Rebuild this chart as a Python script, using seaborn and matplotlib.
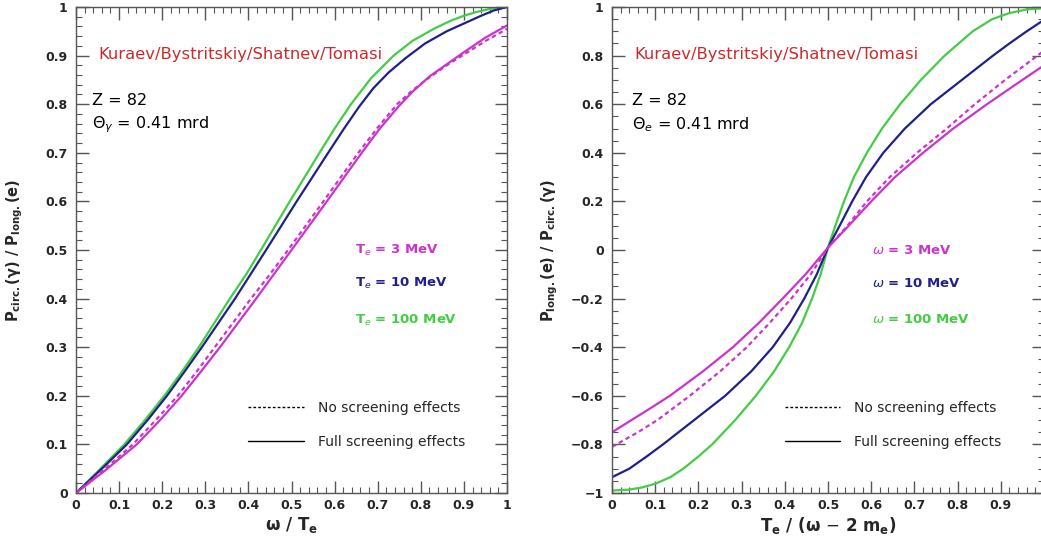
import matplotlib
matplotlib.use("Agg")
import matplotlib.pyplot as plt
from matplotlib.lines import Line2D
from matplotlib.ticker import MultipleLocator, FuncFormatter
import pandas as pd
import seaborn as sns

# left panel: P_circ(gamma) / P_long(e) versus omega / T_e
LEFT_GREEN_X = [0, 0.05, 0.112, 0.16, 0.205, 0.246, 0.285, 0.357, 0.395, 0.429, 0.496, 0.565, 0.60,
                0.638, 0.684, 0.737, 0.78, 0.83, 0.87, 0.9, 0.93, 0.96, 1.0]
LEFT_GREEN_Y = [0, 0.044, 0.1, 0.15, 0.2, 0.25, 0.3, 0.4, 0.45, 0.5, 0.6, 0.7, 0.75,
                0.8, 0.853, 0.9, 0.93, 0.955, 0.972, 0.982, 0.99, 0.996, 1.0]
LEFT_BLUE_X = [0, 0.06, 0.118, 0.166, 0.211, 0.252, 0.292, 0.369, 0.405, 0.441, 0.512, 0.585, 0.622,
               0.657, 0.69, 0.725, 0.765, 0.81, 0.86, 0.9, 0.94, 0.97, 1.0]
LEFT_BLUE_Y = [0, 0.05, 0.1, 0.15, 0.2, 0.25, 0.3, 0.4, 0.45, 0.5, 0.6, 0.7, 0.75,
               0.795, 0.833, 0.865, 0.895, 0.925, 0.95, 0.966, 0.982, 0.993, 1.0]
LEFT_MAG_X = [0, 0.07, 0.141, 0.195, 0.245, 0.29, 0.334, 0.418, 0.459, 0.5, 0.582, 0.663, 0.705,
              0.748, 0.78, 0.82, 0.86, 0.9, 0.95, 1.0]
LEFT_MAG_Y = [0, 0.048, 0.1, 0.15, 0.2, 0.25, 0.3, 0.4, 0.45, 0.5, 0.6, 0.7, 0.75,
              0.795, 0.825, 0.857, 0.882, 0.907, 0.937, 0.962]
LEFT_MAG_NS_X = [0, 0.065, 0.132, 0.185, 0.236, 0.28, 0.322, 0.406, 0.45, 0.492, 0.574, 0.655, 0.70,
                 0.745, 0.78, 0.82, 0.86, 0.905, 0.95, 1.0]
LEFT_MAG_NS_Y = [0, 0.048, 0.1, 0.15, 0.2, 0.25, 0.3, 0.4, 0.45, 0.5, 0.6, 0.7, 0.752,
                 0.8, 0.828, 0.855, 0.88, 0.905, 0.93, 0.955]

# right panel: P_long(e) / P_circ(gamma) versus T_e / (omega - 2 m_e)
RIGHT_GREEN_X = [0, 0.04, 0.07, 0.1, 0.135, 0.165, 0.2, 0.232, 0.285, 0.333, 0.375, 0.41, 0.44,
                 0.463, 0.483, 0.5, 0.517, 0.537, 0.56, 0.59, 0.625, 0.667, 0.715, 0.77, 0.835,
                 0.88, 0.92, 0.96, 1.0]
RIGHT_GREEN_Y = [-0.99, -0.986, -0.977, -0.962, -0.935, -0.9, -0.85, -0.8, -0.7, -0.6, -0.5, -0.4, -0.3,
                 -0.2, -0.1, 0.01, 0.1, 0.2, 0.3, 0.4, 0.5, 0.6, 0.7, 0.8, 0.9,
                 0.95, 0.975, 0.99, 0.995]
RIGHT_BLUE_X = [0, 0.04, 0.08, 0.118, 0.19, 0.262, 0.322, 0.372, 0.412, 0.445, 0.474, 0.5,
                0.527, 0.556, 0.588, 0.628, 0.678, 0.738, 0.81, 0.882, 0.92, 0.96, 1.0]
RIGHT_BLUE_Y = [-0.935, -0.9, -0.85, -0.8, -0.7, -0.6, -0.5, -0.4, -0.3, -0.2, -0.1, 0.01,
                0.1, 0.2, 0.3, 0.4, 0.5, 0.6, 0.7, 0.8, 0.85, 0.9, 0.947]
RIGHT_MAG_X = [0, 0.045, 0.09, 0.134, 0.21, 0.28, 0.34, 0.395, 0.448, 0.5,
               0.548, 0.6, 0.655, 0.72, 0.79, 0.868, 0.95, 1.0]
RIGHT_MAG_Y = [-0.75, -0.7, -0.65, -0.6, -0.5, -0.4, -0.3, -0.2, -0.1, 0.01,
               0.1, 0.2, 0.3, 0.4, 0.5, 0.6, 0.7, 0.76]
RIGHT_MAG_NS_X = [0, 0.06, 0.105, 0.18, 0.25, 0.312, 0.365, 0.415, 0.46, 0.5,
                  0.545, 0.59, 0.643, 0.706, 0.775, 0.84, 0.91, 1.0]
RIGHT_MAG_NS_Y = [-0.81, -0.75, -0.7, -0.6, -0.5, -0.4, -0.3, -0.2, -0.1, 0.01,
                  0.1, 0.2, 0.3, 0.4, 0.5, 0.6, 0.7, 0.82]

MAGENTA = "#cc33cc"
BLUE = "#20208c"
GREEN = "#44cc44"
RED = "#cc2a2a"

W, H = 1041, 537


def draw_curve(ax, xs, ys, color, dashed=False):
    df = pd.DataFrame({"x": xs, "y": ys})
    sns.lineplot(data=df, x="x", y="y", ax=ax, color=color, sort=False,
                 linewidth=1.6, linestyle=(0, (2, 1.5)) if dashed else "-")


def tick_text(v, hide_one=False):
    if hide_one and v > 0.999:
        return ""
    return f"{round(v, 2):g}".replace("-", "\u2212")


def style_axes(ax, ymin, ymax, ymajor, yminor, hide_x_one=False):
    ax.set_xlim(0, 1)
    ax.set_ylim(ymin, ymax)
    ax.xaxis.set_major_locator(MultipleLocator(0.1))
    ax.xaxis.set_minor_locator(MultipleLocator(0.02))
    ax.yaxis.set_major_locator(MultipleLocator(ymajor))
    ax.yaxis.set_minor_locator(MultipleLocator(yminor))
    ax.xaxis.set_major_formatter(FuncFormatter(lambda v, p: tick_text(v, hide_x_one)))
    ax.yaxis.set_major_formatter(FuncFormatter(lambda v, p: tick_text(v)))
    ax.tick_params(which="both", direction="in", top=True, right=True, color="#555555")
    ax.tick_params(which="major", length=9, width=1, labelsize=9)
    ax.tick_params(axis="x", which="major", pad=4)
    ax.tick_params(axis="y", which="major", pad=6)
    ax.tick_params(which="minor", length=4.5, width=0.8)
    for lab in ax.get_xticklabels() + ax.get_yticklabels():
        lab.set_fontweight("bold")
    for sp in ax.spines.values():
        sp.set_color("#555555")
        sp.set_linewidth(1.0)
        sp.set_visible(True)


def annotate(ax, theta, labels, label_x, z_x):
    kw = dict(transform=ax.transAxes, va="center", ha="left")
    ax.text(0.051, 0.903, "Kuraev/Bystritskiy/Shatnev/Tomasi", color=RED, fontsize=11.8, **kw)
    ax.text(z_x, 0.807, "Z = 82", color="black", fontsize=11.5, **kw)
    ax.text(z_x, 0.757, theta, color="black", fontsize=11.5, **kw)
    for (txt, col), yy in zip(labels, [0.5, 0.432, 0.356]):
        ax.text(label_x, yy, txt, color=col, fontweight="bold", fontsize=9.5, **kw)
    handles = [Line2D([], [], color="black", lw=1, linestyle=(0, (2, 1.5))),
               Line2D([], [], color="black", lw=1)]
    ax.legend(handles, ["No screening effects", "Full screening effects"],
              loc="upper left", bbox_to_anchor=(0.40, 0.19), frameon=False,
              fontsize=10, handlelength=4.0, handletextpad=1.0, labelspacing=1.45,
              borderpad=0, borderaxespad=0)


sns.set_style("ticks")
plt.rcParams["font.family"] = ["DejaVu Sans"]
plt.rcParams["mathtext.fontset"] = "dejavusans"

fig = plt.figure(figsize=(W / 100, H / 100), dpi=100)
ax1 = fig.add_axes([76 / W, 44 / H, 431 / W, 486 / H])
ax2 = fig.add_axes([612 / W, 44 / H, 432 / W, 486 / H])

draw_curve(ax1, LEFT_GREEN_X, LEFT_GREEN_Y, GREEN)
draw_curve(ax1, LEFT_BLUE_X, LEFT_BLUE_Y, BLUE)
draw_curve(ax1, LEFT_MAG_NS_X, LEFT_MAG_NS_Y, MAGENTA, dashed=True)
draw_curve(ax1, LEFT_MAG_X, LEFT_MAG_Y, MAGENTA)
style_axes(ax1, 0, 1, 0.1, 0.02)
ax1.set_xlabel(r"$\mathbf{\omega}$ / T$_{\mathbf{e}}$", fontsize=12, fontweight="bold")
ax1.set_ylabel(r"P$_{\mathbf{circ.}}$($\mathbf{\gamma}$) / P$_{\mathbf{long.}}$(e)",
               fontsize=10.5, fontweight="bold")
ax1.xaxis.set_label_coords(0.5, -0.045)
ax1.yaxis.set_label_coords(-0.118, 0.5)
annotate(ax1, r"$\Theta_{\gamma}$ = 0.41 mrd",
         [(r"T$_e$ = 3 MeV", MAGENTA), (r"T$_e$ = 10 MeV", BLUE), (r"T$_e$ = 100 MeV", GREEN)],
         0.647, 0.037)

draw_curve(ax2, RIGHT_GREEN_X, RIGHT_GREEN_Y, GREEN)
draw_curve(ax2, RIGHT_BLUE_X, RIGHT_BLUE_Y, BLUE)
draw_curve(ax2, RIGHT_MAG_NS_X, RIGHT_MAG_NS_Y, MAGENTA, dashed=True)
draw_curve(ax2, RIGHT_MAG_X, RIGHT_MAG_Y, MAGENTA)
style_axes(ax2, -1, 1, 0.2, 0.05, hide_x_one=True)
ax2.set_xlabel(r"T$_{\mathbf{e}}$ / ($\mathbf{\omega}$ $-$ 2 m$_{\mathbf{e}}$)", fontsize=12,
               fontweight="bold")
ax2.set_ylabel(r"P$_{\mathbf{long.}}$(e) / P$_{\mathbf{circ.}}$($\mathbf{\gamma}$)",
               fontsize=10.5, fontweight="bold")
ax2.xaxis.set_label_coords(0.5, -0.045)
ax2.yaxis.set_label_coords(-0.12, 0.5)
annotate(ax2, r"$\Theta_{e}$ = 0.41 mrd",
         [(r"$\omega$ = 3 MeV", MAGENTA), (r"$\omega$ = 10 MeV", BLUE), (r"$\omega$ = 100 MeV", GREEN)],
         0.602, 0.046)

fig.savefig("out.png", dpi=100)
